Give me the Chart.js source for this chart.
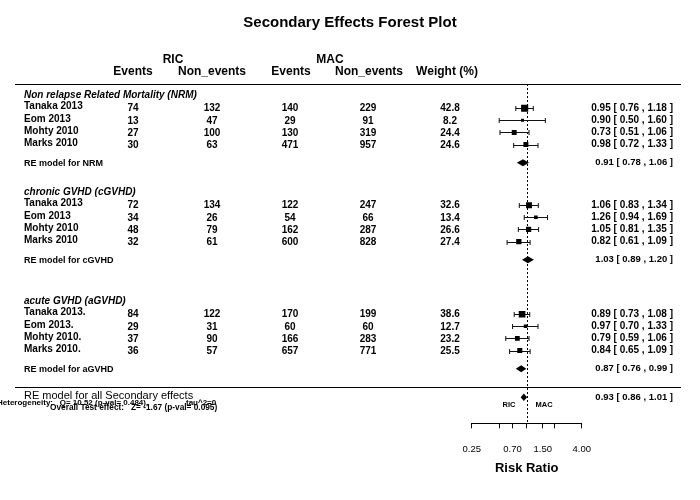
<!DOCTYPE html>
<html><head><meta charset="utf-8">
<script src="https://cdn.jsdelivr.net/npm/chart.js@4/dist/chart.umd.min.js"></script>
<style>html,body{margin:0;padding:0;background:#fff}</style>
</head><body>
<canvas id="c" width="700" height="500"></canvas>
<script>
// ---------- data ----------
const chartTitle = "Secondary Effects Forest Plot";
const groupNames = ["Non relapse Related Mortality (NRM)", "chronic GVHD (cGVHD)", "acute GVHD (aGVHD)"];
const reLabels = ["RE model for NRM", "RE model for cGVHD", "RE model for aGVHD"];
const studies = [
  ["Tanaka 2013", "Eom 2013", "Mohty 2010", "Marks 2010"],
  ["Tanaka 2013", "Eom 2013", "Mohty 2010", "Marks 2010"],
  ["Tanaka 2013.", "Eom 2013.", "Mohty 2010.", "Marks 2010."]
];
const ricEvents = [[74, 13, 27, 30], [72, 34, 48, 32], [84, 29, 37, 36]];
const ricNonEvents = [[132, 47, 100, 63], [134, 26, 79, 61], [122, 31, 90, 57]];
const macEvents = [[140, 29, 130, 471], [122, 54, 162, 600], [170, 60, 166, 657]];
const macNonEvents = [[229, 91, 319, 957], [247, 66, 287, 828], [199, 60, 283, 771]];
const weights = [[42.8, 8.2, 24.4, 24.6], [32.6, 13.4, 26.6, 27.4], [38.6, 12.7, 23.2, 25.5]];
const riskRatio = [[0.95, 0.90, 0.73, 0.98], [1.06, 1.26, 1.05, 0.82], [0.89, 0.97, 0.79, 0.84]];
const ciLow = [[0.76, 0.50, 0.51, 0.72], [0.83, 0.94, 0.81, 0.61], [0.73, 0.70, 0.59, 0.65]];
const ciHigh = [[1.18, 1.60, 1.06, 1.33], [1.34, 1.69, 1.35, 1.09], [1.08, 1.33, 1.06, 1.09]];
const reEstimate = [0.91, 1.03, 0.87];
const reLow = [0.78, 0.89, 0.76];
const reHigh = [1.06, 1.20, 0.99];
const overallLabel = "RE model for all Secondary effects";
const overallEstimate = [0.93];
const overallLow = [0.86];
const overallHigh = [1.01];
const heterogeneityText = "Heterogeneity:   Q= 10.52 (p-val= 0.484),";
const tauText = "tau^2=0";
const overallTestText = "Overall Test effect:   Z= -1.67 (p-val= 0.095)";
const tickValues = [0.25, 0.5, 0.7, 1, 1.5, 2, 4];
const tickLabels = ["0.25", "", "0.70", "", "1.50", "", "4.00"];
const axisTitle = "Risk Ratio";
const columnHeaders = ["Events", "Non_events", "Events", "Non_events", "Weight (%)"];
const armNames = ["RIC", "MAC"];
const armLabelAt = [0.64, 1.55];

// ---------- layout (rows) ----------
const GROUP_START = [0, 8, 17];
const studyRow = (g, i) => GROUP_START[g] + 1 + i;
const reRow = g => GROUP_START[g] + 5.5;
const RULE_ROW = 24, OVERALL_ROW = 25;
const FONT = "'Liberation Sans', Arial, Helvetica, sans-serif";
Chart.defaults.font.family = FONT;
Chart.defaults.color = '#000';

const points = [];
riskRatio.forEach((arr, g) => arr.forEach((v, i) => points.push({x: v, y: studyRow(g, i), w: weights[g][i]})));

const fmt = v => v.toFixed(2);
const ciText = (e, l, h) => `${fmt(e)} [ ${fmt(l)} , ${fmt(h)} ]`;

function txt(ctx, s, x, y, font, align) {
  ctx.font = font; ctx.textAlign = align || 'left'; ctx.textBaseline = 'middle';
  ctx.fillStyle = '#000'; ctx.fillText(s, x, y);
}
function diamond(ctx, xs, ys, e, l, h, row, hh) {
  const y = ys.getPixelForValue(row);
  ctx.beginPath();
  ctx.moveTo(xs.getPixelForValue(l), y);
  ctx.lineTo(xs.getPixelForValue(e), y - hh);
  ctx.lineTo(xs.getPixelForValue(h), y);
  ctx.lineTo(xs.getPixelForValue(e), y + hh);
  ctx.closePath();
  ctx.fillStyle = '#000'; ctx.fill();
}

const forestPlugin = {
  id: 'forest',
  beforeDatasetsDraw(chart) {
    const {ctx, scales: {x: xs, y: ys}, chartArea: ca} = chart;
    ctx.save();
    const x1 = Math.round(xs.getPixelForValue(1)) + 0.5;
    ctx.strokeStyle = '#000'; ctx.lineWidth = 1; ctx.setLineDash([2, 2]);
    ctx.beginPath(); ctx.moveTo(x1, ca.top); ctx.lineTo(x1, ca.bottom); ctx.stroke();
    ctx.setLineDash([]);
    ctx.strokeStyle = '#111';
    riskRatio.forEach((arr, g) => arr.forEach((v, i) => {
      const y = Math.round(ys.getPixelForValue(studyRow(g, i))) + 0.5;
      const a = xs.getPixelForValue(ciLow[g][i]), b = xs.getPixelForValue(ciHigh[g][i]);
      ctx.beginPath();
      ctx.moveTo(a, y); ctx.lineTo(b, y);
      ctx.moveTo(a, y - 2.5); ctx.lineTo(a, y + 2.5);
      ctx.moveTo(b, y - 2.5); ctx.lineTo(b, y + 2.5);
      ctx.stroke();
    }));
    ctx.restore();
  },
  afterDatasetsDraw(chart) {
    const {ctx, scales: {x: xs, y: ys}} = chart;
    ctx.save();
    reEstimate.forEach((e, g) => diamond(ctx, xs, ys, e, reLow[g], reHigh[g], reRow(g), 3.5));
    diamond(ctx, xs, ys, overallEstimate[0], overallLow[0], overallHigh[0], OVERALL_ROW - 0.15, 3.8);

    ctx.strokeStyle = '#000'; ctx.lineWidth = 1;
    [-1, RULE_ROW].forEach(r => {
      const y = Math.round(ys.getPixelForValue(r)) + 0.5;
      ctx.beginPath(); ctx.moveTo(15, y); ctx.lineTo(681, y); ctx.stroke();
    });

    const hf = `bold 12px ${FONT}`;
    txt(ctx, armNames[0], 173, 60, hf, 'center');
    txt(ctx, armNames[1], 330, 60, hf, 'center');
    const hx = [133, 212, 291, 369, 447];
    columnHeaders.forEach((h, i) => txt(ctx, h, hx[i], 72, hf, 'center'));

    const bf = `bold 10px ${FONT}`;
    const colX = [133, 212, 290, 368, 450];
    groupNames.forEach((name, g) => {
      txt(ctx, name, 24, ys.getPixelForValue(GROUP_START[g]) - 1, `italic bold 10px ${FONT}`);
      studies[g].forEach((s, i) => {
        const y = ys.getPixelForValue(studyRow(g, i));
        txt(ctx, s, 24, y - 1.5, bf);
        const vals = [ricEvents[g][i], ricNonEvents[g][i], macEvents[g][i], macNonEvents[g][i], weights[g][i].toFixed(1)];
        vals.forEach((v, k) => txt(ctx, String(v), colX[k], y + 0.5, bf, 'center'));
        txt(ctx, ciText(riskRatio[g][i], ciLow[g][i], ciHigh[g][i]), 673, y, bf, 'right');
      });
      const yr = ys.getPixelForValue(reRow(g));
      txt(ctx, reLabels[g], 24, yr + 1, `bold 9px ${FONT}`);
      txt(ctx, ciText(reEstimate[g], reLow[g], reHigh[g]), 673, yr, `bold 9.5px ${FONT}`, 'right');
    });

    const yo = ys.getPixelForValue(OVERALL_ROW);
    txt(ctx, overallLabel, 24, yo - 3, `11px ${FONT}`);
    txt(ctx, ciText(overallEstimate[0], overallLow[0], overallHigh[0]), 673, yo - 2, `bold 9.5px ${FONT}`, 'right');
    txt(ctx, heterogeneityText, -3, yo + 3.5, `bold 8px ${FONT}`);
    txt(ctx, tauText, 186, yo + 3.5, `bold 8px ${FONT}`);
    txt(ctx, overallTestText, 50, yo + 9, `bold 8.3px ${FONT}`);
    armNames.forEach((a, i) => txt(ctx, a, xs.getPixelForValue(armLabelAt[i]), yo + 6, `bold 7.5px ${FONT}`, 'center'));
    ctx.restore();
  }
};

new Chart(document.getElementById('c'), {
  type: 'scatter',
  data: {
    datasets: [{
      data: points,
      pointStyle: 'rect',
      pointRadius: c => 1.4 + (c.raw ? c.raw.w : 20) * 0.085,
      pointBackgroundColor: '#000',
      pointBorderWidth: 0,
      pointBorderColor: '#000'
    }]
  },
  options: {
    responsive: false,
    animation: false,
    events: [],
    layout: {padding: 0},
    plugins: {
      legend: {display: false},
      tooltip: {enabled: false},
      title: {
        display: true, text: chartTitle, color: '#000',
        font: {size: 15, weight: 'bold', family: FONT},
        padding: {top: 14, bottom: 52}
      }
    },
    scales: {
      x: {
        type: 'logarithmic', min: 0.25, max: 4, position: 'bottom',
        afterBuildTicks: s => { s.ticks = tickValues.map(v => ({value: v})); },
        afterFit: s => { s.height = 76.7; },
        ticks: {
          autoSkip: false, maxRotation: 0, minRotation: 0, padding: 15,
          font: {size: 9.5, family: FONT}, color: '#000',
          callback: (v, i) => tickLabels[i]
        },
        grid: {drawOnChartArea: false, drawTicks: true, tickLength: 5, color: '#000'},
        border: {display: true, color: '#000', width: 1},
        title: {
          display: true, text: axisTitle, color: '#000',
          font: {size: 13, weight: 'bold', family: FONT},
          padding: {top: 0, bottom: 24}
        }
      },
      y: {
        type: 'linear', reverse: true, min: -1, max: 27, position: 'left',
        ticks: {display: false}, grid: {display: false}, border: {display: false},
        afterFit: s => { s.width = 471.7; }
      },
      y2: {
        type: 'linear', position: 'right',
        ticks: {display: false}, grid: {display: false}, border: {display: false},
        afterFit: s => { s.width = 118.3; }
      }
    }
  },
  plugins: [forestPlugin]
});
</script>
</body></html>
